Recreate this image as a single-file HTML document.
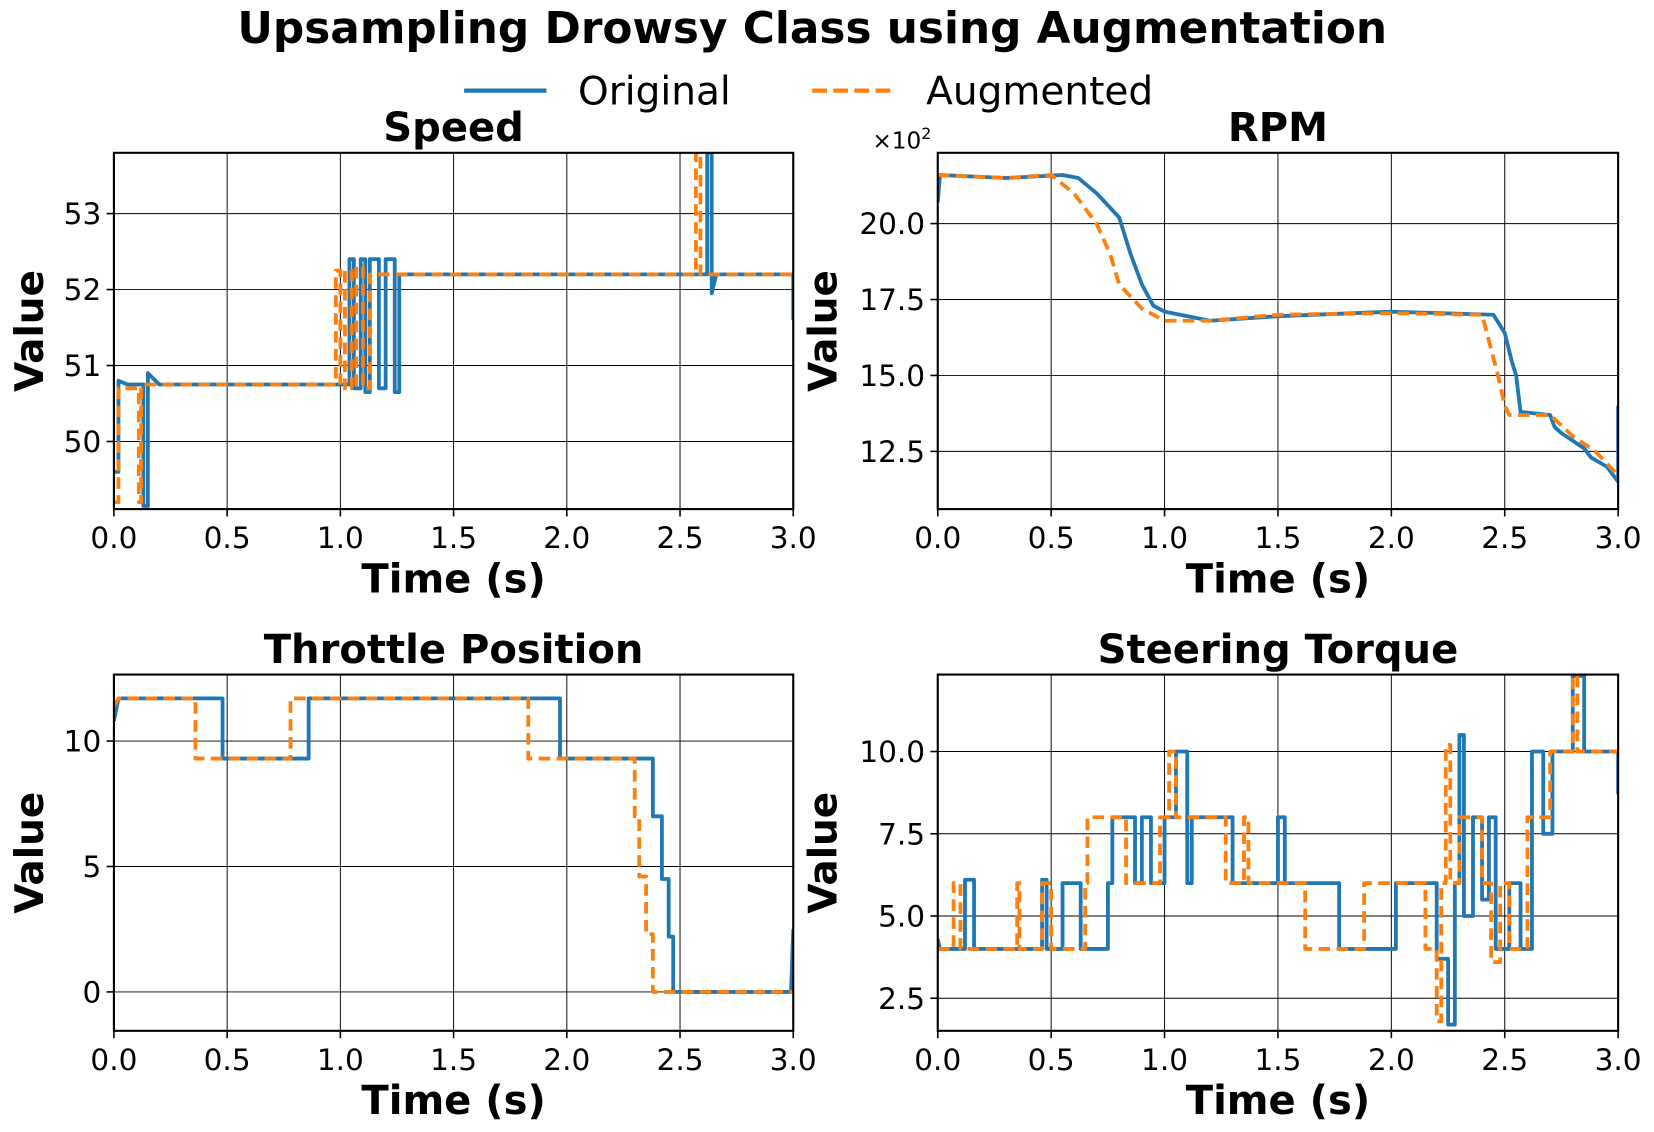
<!DOCTYPE html>
<html><head><meta charset="utf-8"><style>
html,body{margin:0;padding:0;background:#fff;}
svg{display:block;font-family:"DejaVu Sans","Liberation Sans",sans-serif;}
</style></head><body>
<svg id="fig" width="1654" height="1132" viewBox="0 0 1568 1074" preserveAspectRatio="none">
<text x="770" y="41" font-size="41.5" font-weight="bold" text-anchor="middle">Upsampling Drowsy Class using Augmentation</text>
<g>
<line x1="440" y1="86" x2="518" y2="86" stroke="#1f77b4" stroke-width="4"/>
<text x="548" y="99" font-size="37">Original</text>
<line x1="770" y1="86" x2="848" y2="86" stroke="#ff7f0e" stroke-width="4" stroke-dasharray="14,6"/>
<text x="878" y="99" font-size="37">Augmented</text>
</g>
</svg>
<script>
// Speed
const speedTimesO=[0,0.02,0.02,0.06,0.13,0.13,0.15,0.15,0.2,1.0,1.04,1.04,1.06,1.06,1.09,1.09,1.11,1.11,1.13,1.13,1.17,1.17,1.2,1.2,1.24,1.24,1.26,1.26,2.6,2.62,2.62,2.64,2.64,2.66,3.0,3.0];
const speedValsO=[49.6,49.6,50.8,50.75,50.75,49.15,49.15,50.9,50.75,50.75,50.75,52.4,52.4,50.7,50.7,52.4,52.4,50.65,50.65,52.4,52.4,50.7,50.7,52.4,52.4,50.65,50.65,52.2,52.2,52.2,53.8,53.8,51.95,52.2,52.2,51.6];
const speedTimesA=[0,0.02,0.02,0.1,0.11,0.11,0.12,0.12,0.97,0.98,0.98,1.0,1.0,1.02,1.02,1.05,1.05,1.07,1.07,1.1,1.1,1.13,1.13,2.57,2.57,2.59,2.59,3.0];
const speedValsA=[49.2,49.2,50.7,50.7,50.7,49.2,49.2,50.75,50.75,50.75,52.25,52.25,50.7,50.7,52.25,52.25,50.7,50.7,52.3,52.3,50.7,50.7,52.2,52.2,53.8,53.8,52.2,52.2];
const speedTicks=[50,51,52,53];
// RPM (x10^2)
const rpmTimesO=[0,0.01,0.3,0.55,0.62,0.7,0.75,0.8,0.85,0.9,0.95,1.0,1.2,1.5,2.0,2.45,2.5,2.53,2.55,2.57,2.7,2.72,2.75,2.85,2.88,2.95,3.0,3.0];
const rpmValsO=[20.7,21.6,21.5,21.6,21.5,21.0,20.6,20.2,19.0,18.0,17.3,17.1,16.8,16.95,17.1,17.0,16.4,15.5,15.0,13.8,13.7,13.3,13.1,12.6,12.3,12.0,11.5,14.0];
const rpmTimesA=[0,0.3,0.5,0.6,0.7,0.76,0.8,0.9,1.0,1.2,1.5,2.0,2.4,2.47,2.5,2.52,2.7,2.8,2.9,3.0];
const rpmValsA=[21.6,21.5,21.6,21.0,20.0,19.0,18.0,17.2,16.8,16.8,17.0,17.05,17.0,15.0,14.0,13.7,13.7,13.0,12.5,11.7];
const rpmTicks=[12.5,15.0,17.5,20.0];
// Throttle
const thrTimesO=[0,0.02,0.48,0.48,0.86,0.86,1.97,1.97,2.38,2.38,2.42,2.42,2.45,2.45,2.47,2.47,2.99,3.0];
const thrValsO=[10.8,11.7,11.7,9.3,9.3,11.7,11.7,9.3,9.3,7.0,7.0,4.5,4.5,2.2,2.2,0,0,2.5];
const thrTimesA=[0,0.02,0.36,0.36,0.78,0.78,1.83,1.83,2.3,2.3,2.32,2.32,2.35,2.35,2.38,2.38,3.0];
const thrValsA=[11.4,11.7,11.7,9.3,9.3,11.7,11.7,9.3,9.3,7.0,7.0,4.6,4.6,2.3,2.3,0,0];
const thrTicks=[0,5,10];
// Steering torque
const stTimesO=[0,0.01,0.12,0.12,0.16,0.16,0.46,0.46,0.48,0.48,0.55,0.55,0.63,0.63,0.75,0.75,0.77,0.77,0.87,0.87,0.9,0.9,0.94,0.94,1.0,1.0,1.05,1.05,1.1,1.1,1.12,1.12,1.3,1.3,1.5,1.5,1.53,1.53,1.77,1.77,2.02,2.02,2.2,2.2,2.25,2.25,2.28,2.28,2.3,2.3,2.32,2.32,2.36,2.36,2.4,2.4,2.43,2.43,2.46,2.46,2.52,2.52,2.57,2.57,2.62,2.62,2.67,2.67,2.71,2.71,2.8,2.8,2.85,2.85,3.0,3.0];
const stValsO=[4.3,4.0,4.0,6.1,6.1,4.0,4.0,6.1,6.1,4.0,4.0,6.0,6.0,4.0,4.0,6.0,6.0,8.0,8.0,6.0,6.0,8.0,8.0,6.0,6.0,8.0,8.0,10.0,10.0,6.0,6.0,8.0,8.0,6.0,6.0,8.0,8.0,6.0,6.0,4.0,4.0,6.0,6.0,3.7,3.7,1.7,1.7,6.0,6.0,10.5,10.5,5.0,5.0,8.0,8.0,5.5,5.5,8.0,8.0,4.0,4.0,6.0,6.0,4.0,4.0,10.0,10.0,7.5,7.5,10.0,10.0,12.3,12.3,10.0,10.0,8.7];
const stTimesA=[0,0.07,0.07,0.1,0.1,0.35,0.35,0.36,0.36,0.46,0.46,0.5,0.5,0.65,0.65,0.66,0.66,0.83,0.83,0.98,0.98,1.02,1.02,1.05,1.05,1.27,1.27,1.35,1.35,1.37,1.37,1.62,1.62,1.88,1.88,2.15,2.15,2.2,2.2,2.22,2.22,2.24,2.24,2.26,2.26,2.3,2.3,2.4,2.4,2.44,2.44,2.48,2.48,2.52,2.52,2.6,2.6,2.7,2.7,2.8,2.8,2.82,2.82,3.0];
const stValsA=[4.0,4.0,6.0,6.0,4.0,4.0,6.0,6.0,4.0,4.0,6.0,6.0,4.0,4.0,6.0,6.0,8.0,8.0,6.0,6.0,8.0,8.0,10.0,10.0,8.0,8.0,6.0,6.0,8.0,8.0,6.0,6.0,4.0,4.0,6.0,6.0,4.0,4.0,1.8,1.8,6.0,6.0,10.2,10.2,6.0,6.0,8.0,8.0,6.0,6.0,3.6,3.6,6.0,6.0,4.0,4.0,8.0,8.0,10.0,10.0,12.3,12.3,10.0,10.0];
const stTicks=[2.5,5.0,7.5,10.0];
const xTicks=[0,0.5,1,1.5,2,2.5,3];

const NS='http://www.w3.org/2000/svg';
const fig=document.getElementById('fig');
function mk(tag,attrs,parent){const e=document.createElementNS(NS,tag);for(const k in attrs)e.setAttribute(k,attrs[k]);parent.appendChild(e);return e;}

function panel(cfg){
  const g=mk('g',{},fig);
  
  
  const {x0,x1,y0,y1,ymin,ymax}=cfg;
  const sx=t=>x0+(t/3)*(x1-x0);
  const sy=v=>y1-(v-ymin)/(ymax-ymin)*(y1-y0);
  xTicks.forEach(t=>{
    const l=mk('line',{x1:sx(t),x2:sx(t),y1:y0,y2:y1,stroke:'#000','stroke-width':0.9},g);
    
    
    mk('line',{x1:sx(t),x2:sx(t),y1:y1,y2:y1+7,stroke:'#000','stroke-width':1.5},g);
    const tx=mk('text',{x:sx(t),y:y1+37,'font-size':28,'text-anchor':'middle'},g);
    tx.textContent=t.toFixed(1);
    
    
  });
  cfg.ticks.forEach(v=>{
    const l=mk('line',{x1:x0,x2:x1,y1:sy(v),y2:sy(v),stroke:'#000','stroke-width':0.9},g);
    
    
    mk('line',{x1:x0-7,x2:x0,y1:sy(v),y2:sy(v),stroke:'#000','stroke-width':1.5},g);
    const tx=mk('text',{x:x0-12,y:sy(v)+10,'font-size':28,'text-anchor':'end'},g);
    tx.textContent=cfg.fmt(v);
    
    
  });
  const clipId='c'+cfg.name;
  const cp=mk('clipPath',{id:clipId},g);
  mk('rect',{x:x0,y:y0,width:x1-x0,height:y1-y0},cp);
  const series=[[cfg.tO,cfg.vO,'#1f77b4',null,'original-line'],[cfg.tA,cfg.vA,'#ff7f0e','11,6','augmented-line']];
  series.forEach(([ts,vs,col,dash,nm])=>{
    const d=ts.map((t,i)=>(i?'L':'M')+sx(t).toFixed(1)+','+sy(vs[i]).toFixed(1)).join('');
    const a={d:d,fill:'none',stroke:col,'stroke-width':3.6,'stroke-linejoin':'round','clip-path':'url(#'+clipId+')'};
    if(dash)a['stroke-dasharray']=dash;
    const p=mk('path',a,g);
    
    
  });
  const fr=mk('rect',{x:x0,y:y0,width:x1-x0,height:y1-y0,fill:'none',stroke:'#000','stroke-width':2},g);
  
  
  const ti=mk('text',{x:(x0+x1)/2,y:y0-11,'font-size':38,'font-weight':'bold','text-anchor':'middle'},g);
  ti.textContent=cfg.title;
  
  
  const xl=mk('text',{x:(x0+x1)/2,y:y1+79,'font-size':38,'font-weight':'bold','text-anchor':'middle'},g);
  xl.textContent='Time (s)';
  
  
  const yc=(y0+y1)/2;
  const yx=x0-cfg.yoff;
  const yl=mk('text',{x:yx,y:yc,'font-size':37,'font-weight':'bold','text-anchor':'middle',transform:'rotate(-90 '+yx+' '+yc+')'},g);
  yl.textContent='Value';
  
  
  if(cfg.offset){
    const o=mk('text',{x:x0-62,y:y0-4,'font-size':22},g);
    o.innerHTML='×10<tspan dy="-9" font-size="15">2</tspan>';
    
    
  }
}
panel({name:'speed-panel',title:'Speed',x0:108,x1:752,y0:145,y1:483,ymin:49.11,ymax:53.8,ticks:speedTicks,fmt:v=>String(v),tO:speedTimesO,vO:speedValsO,tA:speedTimesA,vA:speedValsA,yoff:67});
panel({name:'rpm-panel',title:'RPM',x0:889,x1:1534,y0:145,y1:483,ymin:10.6,ymax:22.33,ticks:rpmTicks,fmt:v=>v.toFixed(1),tO:rpmTimesO,vO:rpmValsO,tA:rpmTimesA,vA:rpmValsA,offset:true,yoff:96});
panel({name:'throttle-panel',title:'Throttle Position',x0:108,x1:752,y0:640,y1:978,ymin:-1.55,ymax:12.65,ticks:thrTicks,fmt:v=>String(v),tO:thrTimesO,vO:thrValsO,tA:thrTimesA,vA:thrValsA,yoff:67});
panel({name:'steering-panel',title:'Steering Torque',x0:889,x1:1534,y0:640,y1:978,ymin:1.51,ymax:12.34,ticks:stTicks,fmt:v=>v.toFixed(1),tO:stTimesO,vO:stValsO,tA:stTimesA,vA:stValsA,yoff:96});
</script>
</body></html>
